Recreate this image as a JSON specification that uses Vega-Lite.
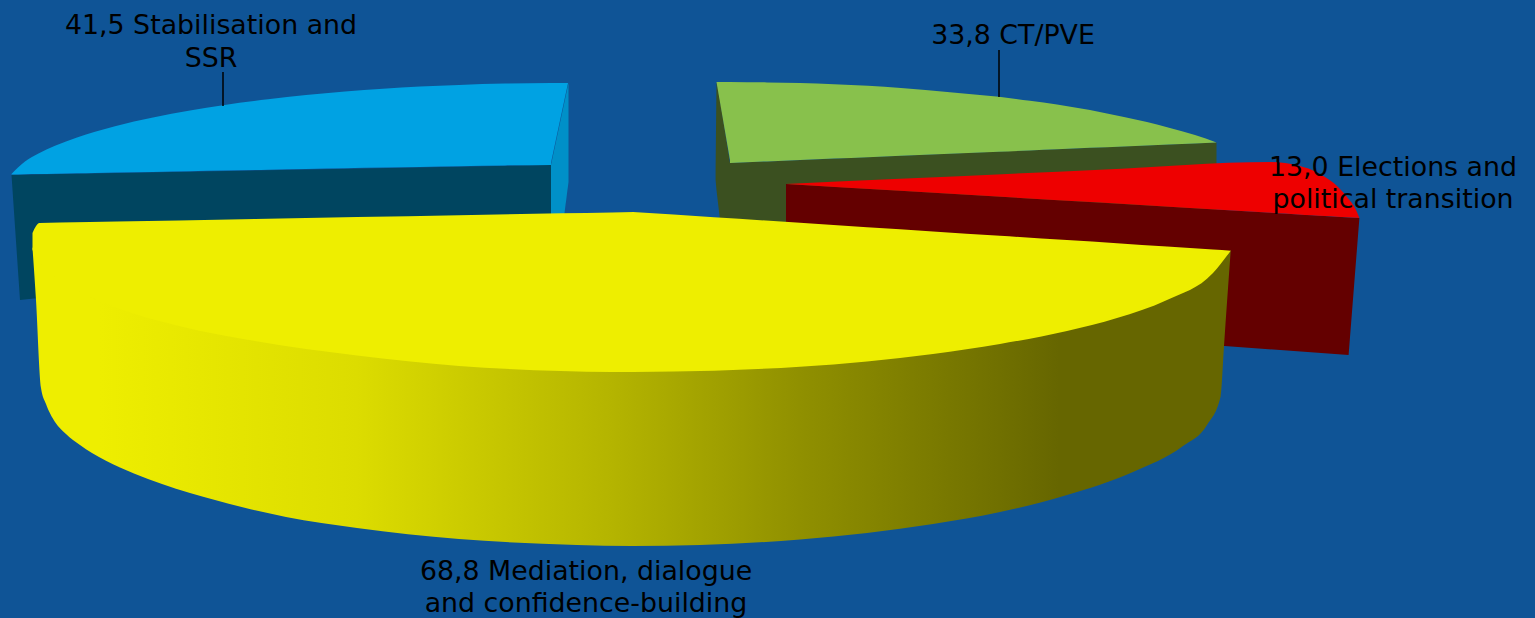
{"$schema":"https://vega.github.io/schema/vega-lite/v6.json","autosize":{"type":"fit","contains":"padding"},"width":1535,"height":618,"padding":0,"background":"#0f5496","config":{"view":{"stroke":null}},
"datasets":{
"shapes":[
{"part":"blue side","x":11.5,"top":175,"bottom":175},{"part":"blue side","x":20,"top":174.8,"bottom":300},{"part":"blue side","x":34,"top":174.5,"bottom":298.5},{"part":"blue side","x":551,"top":165,"bottom":298},
{"part":"blue wall","x":551,"top":165,"bottom":317},{"part":"blue wall","x":568.5,"top":83,"bottom":182},
{"part":"blue top","x":11.5,"top":174,"bottom":174.5},{"part":"blue top","x":25,"top":161.6,"bottom":174.2},{"part":"blue top","x":38,"top":153.8,"bottom":174},{"part":"blue top","x":55,"top":145.8,"bottom":173.7},{"part":"blue top","x":77,"top":137.5,"bottom":173.3},{"part":"blue top","x":95,"top":131.8,"bottom":173},{"part":"blue top","x":115,"top":126.3,"bottom":172.6},{"part":"blue top","x":153,"top":117.6,"bottom":171.9},{"part":"blue top","x":190,"top":110.6,"bottom":171.2},{"part":"blue top","x":223,"top":105.2,"bottom":170.6},{"part":"blue top","x":268,"top":99.3,"bottom":169.7},{"part":"blue top","x":306,"top":95.1,"bottom":169},{"part":"blue top","x":345,"top":91.6,"bottom":168.3},{"part":"blue top","x":383,"top":88.8,"bottom":167.6},{"part":"blue top","x":420,"top":86.6,"bottom":166.9},{"part":"blue top","x":459,"top":84.9,"bottom":166.2},{"part":"blue top","x":505,"top":83.6,"bottom":165.4},{"part":"blue top","x":551,"top":83,"bottom":165},
{"part":"blue corner","x":550.5,"top":83,"bottom":165},{"part":"blue corner","x":568,"top":83,"bottom":83},
{"part":"green side","x":715.6,"top":170,"bottom":180},{"part":"green side","x":716.5,"top":82,"bottom":190},{"part":"green side","x":720,"top":100,"bottom":220},{"part":"green side","x":730,"top":163,"bottom":240},{"part":"green side","x":1216.5,"top":142.5,"bottom":240},
{"part":"green corner","x":716.5,"top":82,"bottom":82},{"part":"green corner","x":730.5,"top":82,"bottom":163},
{"part":"green top","x":730,"top":82,"bottom":163},{"part":"green top","x":767,"top":82.4,"bottom":161.4},{"part":"green top","x":800,"top":83,"bottom":160},{"part":"green top","x":834,"top":84.2,"bottom":158.6},{"part":"green top","x":868,"top":85.8,"bottom":157.2},{"part":"green top","x":901,"top":88,"bottom":155.8},{"part":"green top","x":950,"top":92.2,"bottom":153.7},{"part":"green top","x":999,"top":96.8,"bottom":151.7},{"part":"green top","x":1030,"top":100.8,"bottom":150.4},{"part":"green top","x":1057,"top":104.4,"bottom":149.2},{"part":"green top","x":1090,"top":110,"bottom":147.8},{"part":"green top","x":1124,"top":117,"bottom":146.4},{"part":"green top","x":1147,"top":122,"bottom":145.4},{"part":"green top","x":1169,"top":127.8,"bottom":144.5},{"part":"green top","x":1195,"top":135,"bottom":143.4},{"part":"green top","x":1216.5,"top":142.5,"bottom":142.5},
{"part":"red side","x":786,"top":184,"bottom":314},{"part":"red side","x":1224.5,"top":210,"bottom":346},{"part":"red side","x":1348.6,"top":217.4,"bottom":355},{"part":"red side","x":1359.4,"top":218,"bottom":218},
{"part":"red top","x":786,"top":184,"bottom":184},{"part":"red top","x":900,"top":178.8,"bottom":190.8},{"part":"red top","x":1100,"top":169.8,"bottom":202.6},{"part":"red top","x":1271,"top":162,"bottom":212.8},{"part":"red top","x":1285,"top":163,"bottom":213.6},{"part":"red top","x":1298,"top":165.5,"bottom":214.4},{"part":"red top","x":1312,"top":170,"bottom":215.2},{"part":"red top","x":1325,"top":177,"bottom":216},{"part":"red top","x":1337,"top":186,"bottom":216.7},{"part":"red top","x":1347,"top":197,"bottom":217.3},{"part":"red top","x":1356,"top":210,"bottom":217.8},{"part":"red top","x":1359.4,"top":218,"bottom":218},
{"part":"yellow side","x":32.5,"top":248,"bottom":248},{"part":"yellow side","x":36,"top":245,"bottom":300},{"part":"yellow side","x":41,"top":255,"bottom":388},{"part":"yellow side","x":46,"top":262,"bottom":404},{"part":"yellow side","x":55,"top":270,"bottom":422},{"part":"yellow side","x":66,"top":280,"bottom":434},{"part":"yellow side","x":80,"top":288,"bottom":445},{"part":"yellow side","x":92,"top":295,"bottom":453},{"part":"yellow side","x":120,"top":307,"bottom":467.5},{"part":"yellow side","x":148,"top":316,"bottom":479},{"part":"yellow side","x":204,"top":329,"bottom":497},{"part":"yellow side","x":286,"top":342,"bottom":517},{"part":"yellow side","x":357,"top":352,"bottom":528},{"part":"yellow side","x":459,"top":364,"bottom":539},{"part":"yellow side","x":577,"top":370,"bottom":545},{"part":"yellow side","x":632,"top":371,"bottom":546},{"part":"yellow side","x":700,"top":370,"bottom":545},{"part":"yellow side","x":800,"top":365,"bottom":539.5},{"part":"yellow side","x":867,"top":360,"bottom":533},{"part":"yellow side","x":933,"top":353,"bottom":524},{"part":"yellow side","x":1000,"top":343,"bottom":512},{"part":"yellow side","x":1067,"top":330,"bottom":495},{"part":"yellow side","x":1133,"top":311,"bottom":472},{"part":"yellow side","x":1183,"top":290,"bottom":446},{"part":"yellow side","x":1207,"top":276,"bottom":425},{"part":"yellow side","x":1220.7,"top":262,"bottom":396},{"part":"yellow side","x":1224,"top":258,"bottom":346},{"part":"yellow side","x":1230.7,"top":250,"bottom":250.7},
{"part":"yellow top a","x":32.5,"top":233,"bottom":250},{"part":"yellow top a","x":39.4,"top":223,"bottom":261},{"part":"yellow top a","x":60,"top":222.6,"bottom":280},{"part":"yellow top a","x":90,"top":222.1,"bottom":297},{"part":"yellow top a","x":117,"top":221.6,"bottom":308},{"part":"yellow top a","x":179,"top":220.4,"bottom":326},{"part":"yellow top a","x":255,"top":219,"bottom":341},{"part":"yellow top a","x":357,"top":217.1,"bottom":355.5},{"part":"yellow top a","x":459,"top":215.2,"bottom":366},{"part":"yellow top a","x":561,"top":213.3,"bottom":371},{"part":"yellow top a","x":612,"top":212.4,"bottom":372},{"part":"yellow top a","x":634,"top":212.1,"bottom":372},
{"part":"yellow top b","x":633,"top":212,"bottom":372},{"part":"yellow top b","x":714,"top":217.2,"bottom":370.7},{"part":"yellow top b","x":800,"top":222.8,"bottom":366.7},{"part":"yellow top b","x":867,"top":227.2,"bottom":361.4},{"part":"yellow top b","x":933,"top":231.4,"bottom":354},{"part":"yellow top b","x":1000,"top":235.8,"bottom":344},{"part":"yellow top b","x":1067,"top":240.1,"bottom":331},{"part":"yellow top b","x":1117,"top":243.3,"bottom":318},{"part":"yellow top b","x":1167,"top":246.6,"bottom":300},{"part":"yellow top b","x":1213,"top":249.6,"bottom":273},{"part":"yellow top b","x":1230.7,"top":250.7,"bottom":250.7}
],
"leaders":[{"x":223,"top":72,"bottom":106},{"x":999,"top":50,"bottom":97}],
"labels":[
{"line":"41,5 Stabilisation and","x":211,"y":26},{"line":"SSR","x":211,"y":59},
{"line":"33,8 CT/PVE","x":1013,"y":36},
{"line":"13,0 Elections and","x":1393,"y":168},{"line":"political transition","x":1393,"y":200},
{"line":"68,8 Mediation, dialogue","x":586,"y":572},{"line":"and confidence-building","x":586,"y":604}
]},
"encoding":{
"x":{"field":"x","type":"quantitative","axis":null,"scale":{"domain":[0,1535],"nice":false,"zero":false}},
"y":{"field":"top","type":"quantitative","axis":null,"scale":{"domain":[0,618],"reverse":true,"nice":false,"zero":false}}
},
"layer":[
{"data":{"name":"shapes"},"transform":[{"filter":{"field":"part","equal":"blue side"}}],"mark":{"type":"area","color":"#004560"},"encoding":{"y2":{"field":"bottom"}}},
{"data":{"name":"shapes"},"transform":[{"filter":{"field":"part","equal":"blue wall"}}],"mark":{"type":"area","color":"#0090c8"},"encoding":{"y2":{"field":"bottom"}}},
{"data":{"name":"shapes"},"transform":[{"filter":{"field":"part","equal":"blue top"}}],"mark":{"type":"area","color":"#00a2e3","interpolate":"monotone"},"encoding":{"y2":{"field":"bottom"}}},
{"data":{"name":"shapes"},"transform":[{"filter":{"field":"part","equal":"blue corner"}}],"mark":{"type":"area","color":"#00a2e3"},"encoding":{"y2":{"field":"bottom"}}},
{"data":{"name":"shapes"},"transform":[{"filter":{"field":"part","equal":"green side"}}],"mark":{"type":"area","color":"#3b5020"},"encoding":{"y2":{"field":"bottom"}}},
{"data":{"name":"shapes"},"transform":[{"filter":{"field":"part","equal":"green corner"}}],"mark":{"type":"area","color":"#88c14c"},"encoding":{"y2":{"field":"bottom"}}},
{"data":{"name":"shapes"},"transform":[{"filter":{"field":"part","equal":"green top"}}],"mark":{"type":"area","color":"#88c14c","interpolate":"monotone"},"encoding":{"y2":{"field":"bottom"}}},
{"data":{"name":"shapes"},"transform":[{"filter":{"field":"part","equal":"red side"}}],"mark":{"type":"area","color":"#640000"},"encoding":{"y2":{"field":"bottom"}}},
{"data":{"name":"shapes"},"transform":[{"filter":{"field":"part","equal":"red top"}}],"mark":{"type":"area","color":"#ee0000","interpolate":"monotone"},"encoding":{"y2":{"field":"bottom"}}},
{"data":{"name":"shapes"},"transform":[{"filter":{"field":"part","equal":"yellow side"}}],"mark":{"type":"area","interpolate":"monotone","color":{"gradient":"linear","x1":0,"y1":0,"x2":1,"y2":0,"stops":[{"offset":0,"color":"#eeee00"},{"offset":0.056,"color":"#eeee00"},{"offset":0.271,"color":"#dcdc00"},{"offset":0.484,"color":"#b4b400"},{"offset":0.64,"color":"#909000"},{"offset":0.807,"color":"#707000"},{"offset":0.857,"color":"#666600"},{"offset":1,"color":"#666600"}]}},"encoding":{"y2":{"field":"bottom"}}},
{"data":{"name":"shapes"},"transform":[{"filter":{"field":"part","equal":"yellow top a"}}],"mark":{"type":"area","color":"#eeee00","interpolate":"monotone"},"encoding":{"y2":{"field":"bottom"}}},
{"data":{"name":"shapes"},"transform":[{"filter":{"field":"part","equal":"yellow top b"}}],"mark":{"type":"area","color":"#eeee00","interpolate":"monotone"},"encoding":{"y2":{"field":"bottom"}}},
{"data":{"name":"leaders"},"mark":{"type":"rule","color":"#000000","strokeWidth":1.5},"encoding":{"y2":{"field":"bottom"}}},
{"data":{"name":"labels"},"mark":{"type":"text","font":"DejaVu Sans","fontSize":26.8,"color":"#000000","align":"center","baseline":"middle"},"encoding":{"y":{"field":"y","type":"quantitative"},"text":{"field":"line","type":"nominal"}}}
]}
